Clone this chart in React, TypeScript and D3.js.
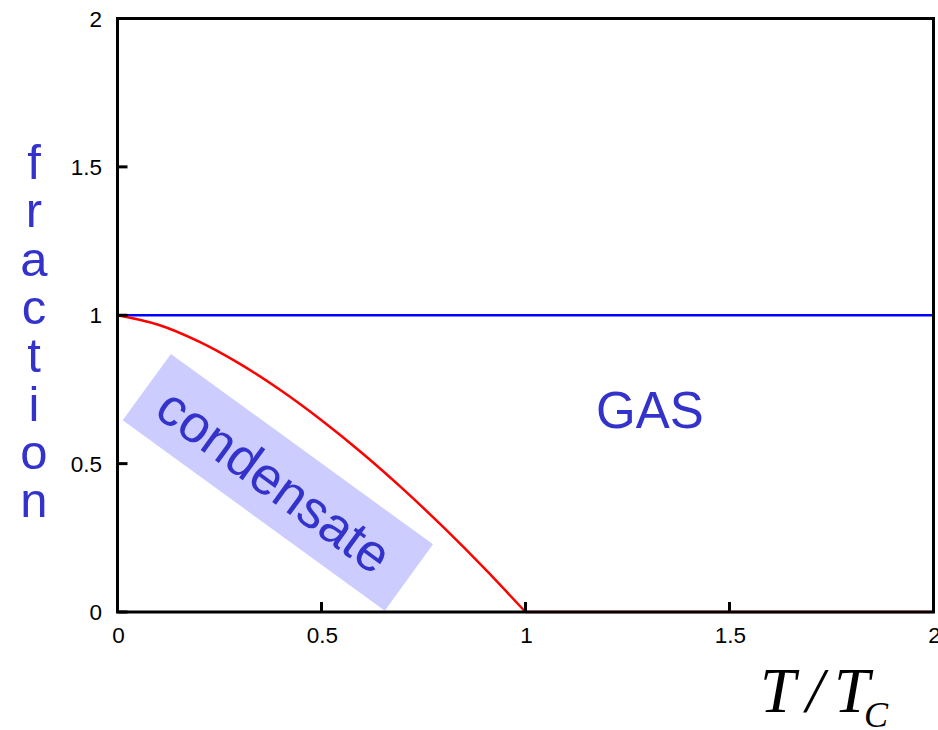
import React from "react";
import * as d3 from "d3";

const xTicks = [0, 0.5, 1, 1.5, 2];
const yTicks = [0, 0.5, 1, 1.5, 2];
const xTickLabels = ["0", "0.5", "1", "1.5", "2"];
const yTickLabels = ["0", "0.5", "1", "1.5", "2"];

// condensate fraction (below T_C)
const condT = [0, 0.1, 0.2, 0.3, 0.4, 0.5, 0.6, 0.7, 0.8, 0.9, 1.0];
const condF = [1, 0.968, 0.911, 0.836, 0.747, 0.646, 0.535, 0.414, 0.284, 0.146, 0];
// condensate fraction above T_C
const condHighT = [1.0, 2.0];
const condHighF = [0, 0];
// total (gas + condensate) fraction
const totalT = [0, 2];
const totalF = [1, 1];

const yLetters = ["f", "r", "a", "c", "t", "i", "o", "n"];

// annotation anchors in data units
const gasLabel = { x: 1.3, y: 0.68, text: "GAS" };
const condLabel = { x: 0.393, y: 0.437, text: "condensate", angle: 36 };

const W = 938;
const H = 730;
const L = 117.5, R = 933.5, T = 18.5, B = 612;

export default function App() {
  const x = d3.scaleLinear().domain([0, 2]).range([L, R]);
  const y = d3.scaleLinear().domain([0, 2]).range([B, T]);
  const smooth = d3
    .line<[number, number]>()
    .x((d) => x(d[0]))
    .y((d) => y(d[1]))
    .curve(d3.curveCatmullRom.alpha(0.5));
  const straight = d3
    .line<[number, number]>()
    .x((d) => x(d[0]))
    .y((d) => y(d[1]));
  const condPath = smooth(condT.map((t, i) => [t, condF[i]]) as [number, number][]) || "";
  const condHighPath =
    straight(condHighT.map((t, i) => [t, condHighF[i]]) as [number, number][]) || "";
  const totalPath = straight(totalT.map((t, i) => [t, totalF[i]]) as [number, number][]) || "";

  const cx = x(condLabel.x);
  const cy = y(condLabel.y);
  const blue = "#3333cc";
  const font = "Liberation Sans, Arial, sans-serif";
  const serif = "Liberation Serif, Times New Roman, serif";

  return (
    <svg
      width={W}
      height={H}
      style={{ position: "absolute", left: 0, top: 0, background: "#fff" }}
    >
      <rect x={0} y={0} width={W} height={H} fill="#fff" />
      {/* condensate box */}
      <g transform={`translate(${cx},${cy}) rotate(${condLabel.angle})`}>
        <rect x={-162} y={-41} width={324} height={82} fill="#ccccff" />
        <text
          x={-4}
          y={0}
          dy="0.36em"
          textAnchor="middle"
          fontFamily={font}
          fontSize={53}
          fill={blue}
        >
          {condLabel.text}
        </text>
      </g>
      {/* curves */}
      <path d={totalPath} fill="none" stroke="#0000ff" strokeWidth={2.5} />
      <path d={condHighPath} fill="none" stroke="#ff0000" strokeWidth={2.5} />
      <path d={condPath} fill="none" stroke="#ff0000" strokeWidth={2.5} />
      {/* frame */}
      <rect x={L} y={T} width={R - L} height={B - T} fill="none" stroke="#000" strokeWidth={3} />
      {/* ticks */}
      {xTicks.map((t, i) => (
        <g key={"xt" + i}>
          <line x1={x(t)} x2={x(t)} y1={B} y2={B - 10} stroke="#000" strokeWidth={3} />
          <text
            x={x(t) + 1}
            y={643}
            textAnchor="middle"
            fontFamily={font}
            fontSize={22.5}
            fill="#000"
          >
            {xTickLabels[i]}
          </text>
        </g>
      ))}
      {yTicks.map((t, i) => (
        <g key={"yt" + i}>
          <line x1={L} x2={L + 10} y1={y(t)} y2={y(t)} stroke="#000" strokeWidth={3} />
          <text
            x={102}
            y={y(t) + 8}
            textAnchor="end"
            fontFamily={font}
            fontSize={22.5}
            fill="#000"
          >
            {yTickLabels[i]}
          </text>
        </g>
      ))}
      {/* GAS */}
      <text
        x={x(gasLabel.x) + 2}
        y={y(gasLabel.y) + 18}
        textAnchor="middle"
        fontFamily={font}
        fontSize={51}
        fill={blue}
      >
        {gasLabel.text}
      </text>
      {/* y label stacked */}
      <text textAnchor="middle" fontFamily={font} fontSize={49} fill={blue}>
        {yLetters.map((c, i) => (
          <tspan key={"yl" + i} x={34} y={179 + i * 48.3}>
            {c}
          </tspan>
        ))}
      </text>
      {/* x label */}
      <text fontFamily={serif} fontStyle="italic" fill="#000" fontSize={64}>
        <tspan x={760} y={712}>T</tspan>
        <tspan x={806} y={712}>/</tspan>
        <tspan x={834} y={712}>T</tspan>
        <tspan x={864} y={727} fontSize={36}>C</tspan>
      </text>
    </svg>
  );
}
